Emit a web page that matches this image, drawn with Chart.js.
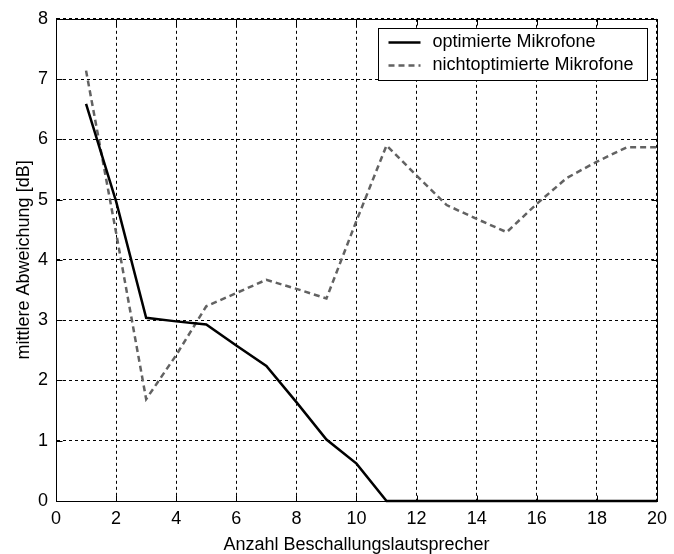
<!DOCTYPE html>
<html>
<head>
<meta charset="utf-8">
<script src="https://cdn.jsdelivr.net/npm/chart.js@4"></script>
<style>
  html, body { margin: 0; padding: 0; background: #fff; }
</style>
</head>
<body>
<canvas id="grafico" width="674" height="554"></canvas>
<script>
// Daten
const anzahl = [1, 2, 3, 4, 5, 6, 7, 8, 9, 10, 11, 12, 13, 14, 15, 16, 17, 18, 19, 20];
const optimiert = [6.59, 4.97, 3.04, 2.98, 2.93, 2.58, 2.24, 1.64, 1.02, 0.62, 0, 0, 0, 0, 0, 0, 0, 0, 0, 0];
const nichtOptimiert = [7.14, 4.45, 1.69, 2.42, 3.23, 3.45, 3.67, 3.52, 3.36, 4.65, 5.9, 5.4, 4.91, 4.68, 4.46, 4.93, 5.36, 5.63, 5.87, 5.87];
const xTicks = [0, 2, 4, 6, 8, 10, 12, 14, 16, 18, 20];
const yTicks = [0, 1, 2, 3, 4, 5, 6, 7, 8];
const legendeTexte = ["optimierte Mikrofone", "nichtoptimierte Mikrofone"];

const schrift = "'Liberation Sans', Arial, sans-serif";

function punkte(werte) {
  return anzahl.map((x, i) => ({ x: x, y: werte[i] }));
}

// Rahmen und nach innen zeigende Striche (wie in MATLAB)
const rahmen = {
  id: "rahmen",
  afterDatasetsDraw(chart) {
    const { ctx, chartArea: a, scales: { x, y } } = chart;
    const l = Math.round(a.left) + 0.5, r = Math.round(a.right) + 0.5;
    const t = Math.round(a.top) + 0.5, b = Math.round(a.bottom) + 0.5;
    ctx.save();
    ctx.strokeStyle = "#000";
    ctx.lineWidth = 1;
    ctx.setLineDash([]);
    ctx.beginPath();
    xTicks.forEach(v => {
      const px = Math.round(x.getPixelForValue(v)) + 0.5;
      ctx.moveTo(px, b); ctx.lineTo(px, b - 6);
      ctx.moveTo(px, t); ctx.lineTo(px, t + 6);
    });
    yTicks.forEach(v => {
      const py = Math.round(y.getPixelForValue(v)) + 0.5;
      ctx.moveTo(l, py); ctx.lineTo(l + 6, py);
      ctx.moveTo(r, py); ctx.lineTo(r - 6, py);
    });
    ctx.stroke();
    ctx.strokeRect(l, t, r - l, b - t);
    ctx.restore();
  },
  afterDraw(chart) {
    const { ctx, chartArea: a } = chart;
    ctx.save();
    ctx.font = "18px " + schrift;
    const textBreite = Math.max(...legendeTexte.map(s => ctx.measureText(s).width));
    const breite = Math.round(54 + textBreite + 14);
    const hoehe = 52;
    const bx = Math.round(a.right) - 10 - breite + 0.5;
    const by = Math.round(a.top) + 9 + 0.5;
    ctx.fillStyle = "#fff";
    ctx.fillRect(bx, by, breite, hoehe);
    ctx.strokeStyle = "#000";
    ctx.lineWidth = 1;
    ctx.strokeRect(bx, by, breite, hoehe);
    chart.data.datasets.forEach((ds, i) => {
      const zy = by + 14 + i * 23;
      ctx.strokeStyle = ds.borderColor;
      ctx.lineWidth = ds.borderWidth;
      ctx.setLineDash(ds.borderDash || []);
      ctx.beginPath();
      ctx.moveTo(bx + 10, zy);
      ctx.lineTo(bx + 42, zy);
      ctx.stroke();
      ctx.setLineDash([]);
      ctx.fillStyle = "#000";
      ctx.textBaseline = "middle";
      ctx.textAlign = "left";
      ctx.fillText(legendeTexte[i], bx + 54, zy);
    });
    ctx.restore();
  }
};

const chart = new Chart(document.getElementById("grafico"), {
  type: "line",
  data: {
    datasets: [
      {
        label: legendeTexte[0],
        data: punkte(optimiert),
        borderColor: "#000000",
        borderWidth: 2.5,
        pointRadius: 0,
        tension: 0,
        clip: false
      },
      {
        label: legendeTexte[1],
        data: punkte(nichtOptimiert),
        borderColor: "#626262",
        borderWidth: 2.5,
        borderDash: [6, 4],
        pointRadius: 0,
        tension: 0,
        clip: false
      }
    ]
  },
  options: {
    responsive: false,
    animation: false,
    layout: { padding: { left: 0, right: 8, top: 16, bottom: 0 } },
    plugins: {
      legend: { display: false },
      tooltip: { enabled: false }
    },
    scales: {
      x: {
        type: "linear",
        min: 0,
        max: 20,
        afterBuildTicks: s => { s.ticks = xTicks.map(v => ({ value: v })); },
        afterFit: s => { s.height = 53; },
        grid: { color: "#000", lineWidth: 1, drawTicks: false },
        border: { display: true, color: "#000", width: 1, dash: [3, 3] },
        ticks: { color: "#000", padding: 7, maxRotation: 0, font: { family: schrift, size: 18 } },
        title: {
          display: true,
          text: "Anzahl Beschallungslautsprecher",
          color: "#000",
          padding: { top: 0, bottom: 0 },
          font: { family: schrift, size: 18, lineHeight: 1 }
        }
      },
      y: {
        type: "linear",
        min: 0,
        max: 8,
        afterBuildTicks: s => { s.ticks = yTicks.map(v => ({ value: v })); },
        afterFit: s => { s.width = 56; },
        grid: { color: "#000", lineWidth: 1, drawTicks: false },
        border: { display: true, color: "#000", width: 1, dash: [3, 3] },
        ticks: { color: "#000", padding: 8, font: { family: schrift, size: 18 } },
        title: {
          display: true,
          text: "mittlere Abweichung [dB]",
          color: "#000",
          padding: { top: 15, bottom: 0 },
          font: { family: schrift, size: 18, lineHeight: 1 }
        }
      }
    }
  },
  plugins: [rahmen]
});
</script>
</body>
</html>
